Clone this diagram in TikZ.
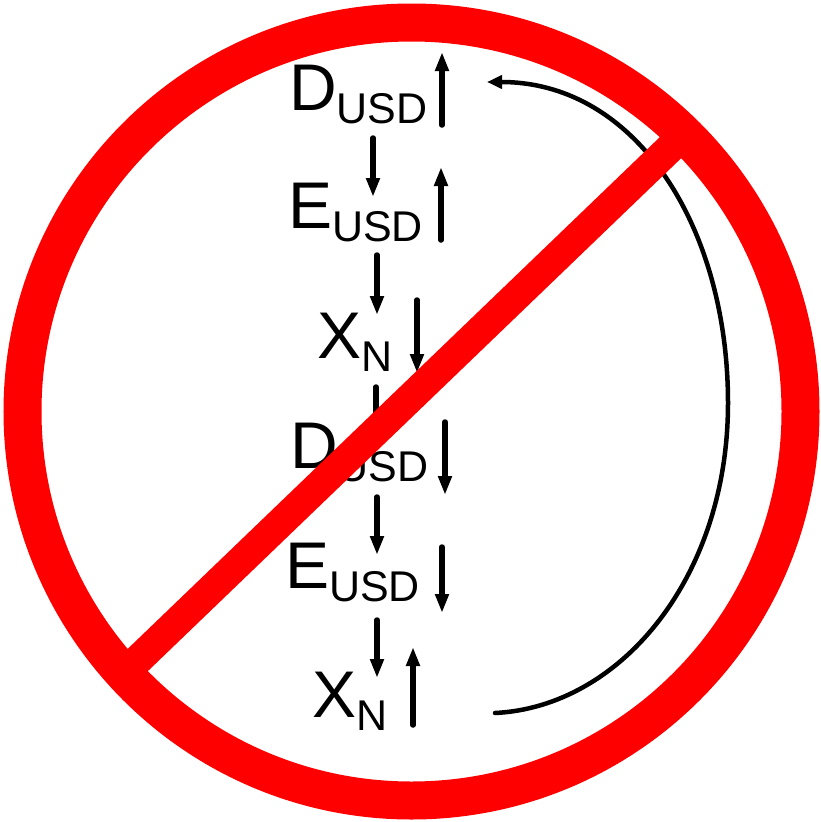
\documentclass[tikz,border=0pt]{standalone}
\usepackage{fontspec}
\setmainfont{Liberation Sans}
\usepackage{tikz}
\usetikzlibrary{arrows.meta}
\definecolor{signred}{RGB}{255,0,0}
\newcommand{\lowsub}[1]{\raisebox{-13pt}{\fontsize{43}{43}\selectfont #1}}

\begin{document}
\begin{tikzpicture}[
  x=1pt, y=1pt,
  var/.style={anchor=base west, inner sep=0pt, font=\fontsize{66}{66}\selectfont},
  arr/.style={-{Triangle[length=19pt,width=13pt]}, line width=5.5pt, line cap=round},
  loop/.style={-{Triangle[length=15pt,width=13pt]}, line width=4.5pt, line cap=round}
]
\useasboundingbox (0,0) rectangle (821,-822);

% the chain of variables
\node[var] (dusd1) at (289,-110) {D\lowsub{USD}};
\node[var] (eusd1) at (288,-228) {E\lowsub{USD}};
\node[var] (xn1)   at (317,-358) {X\lowsub{N}};
\node[var] (dusd2) at (290,-468) {D\lowsub{USD}};
\node[var] (eusd2) at (285,-588) {E\lowsub{USD}};
\node[var] (xn2)   at (312,-717) {X\lowsub{N}};

% links between the rows
\foreach \n/\x/\ya/\yb in {1/373/138/197, 2/377/255/315, 3/376/387/447, 4/377/497/555, 5/377/620/678}{
  \coordinate (s\n) at (\x,-\ya);
  \coordinate (t\n) at (\x,-\yb);
  \draw[arr] (s\n) -- (t\n);
}

% up and down markers
\foreach \n/\x/\ya/\yb in {1/442/125/52, 2/441/240/167, 3/417/300/373, 4/445/422/495, 5/442/547/613, 6/413/725/647}{
  \coordinate (ms\n) at (\x,-\ya);
  \coordinate (mt\n) at (\x,-\yb);
  \draw[arr] (ms\n) -- (mt\n);
}

% feedback back to the top
\coordinate (loopstart) at (495,-713);
\coordinate (loopside)  at (728,-403);
\coordinate (loopend)   at (487,-82);
\draw[loop] (loopstart) .. controls +(125,6) and +(0,-175) .. (loopside)
  .. controls +(0,175) and +(150,0) .. (loopend);

% the sign
\draw[signred, line width=30pt] (118,-679) -- (692,-127);
\draw[signred, line width=38pt] (411.5,-411.5) circle[radius=389pt];

\end{tikzpicture}
\end{document}
